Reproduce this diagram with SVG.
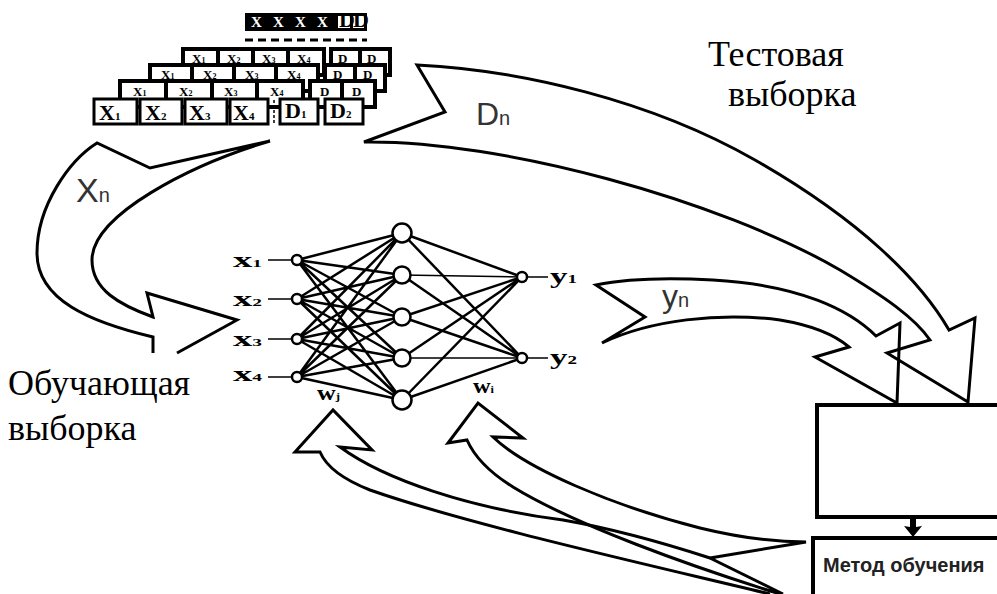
<svg xmlns="http://www.w3.org/2000/svg" width="997" height="594" viewBox="0 0 997 594">
<style>
.big{fill:none;stroke:#000;stroke-width:3;stroke-linejoin:miter}
.cell{fill:#fff;stroke:#000;stroke-width:3}
.cellb{fill:#fff;stroke:#000;stroke-width:4}
.cx{font-family:"Liberation Serif",serif;font-weight:bold;font-size:22px;fill:#000}
.cs{font-family:"Liberation Serif",serif;font-weight:bold;font-size:13px;fill:#000}
.cw{font-family:"Liberation Serif",serif;font-weight:bold;font-size:15px;fill:#fff}
.lbl{font-family:"Liberation Serif",serif;font-size:36px;fill:#000}
.al{font-family:"Liberation Sans",Arial,sans-serif;fill:#333}
.w{fill:none;stroke:#000;stroke-width:2.5}
.wt{fill:none;stroke:#000;stroke-width:1.5}
.nd{fill:#fff;stroke:#000;stroke-width:2.5}
.nl{font-family:"Liberation Serif",serif;font-weight:bold;font-size:22px;fill:#000}
.box{fill:#fff;stroke:#000;stroke-width:4}
</style>

<g id="dataset">
  <rect x="245" y="13" width="122" height="18" fill="#000"/>
  <text class="cw" x="251" y="27">X</text>
  <text class="cw" x="273" y="27">X</text>
  <text class="cw" x="295" y="27">X</text>
  <text class="cw" x="317" y="27">X</text>
  <rect x="338" y="16" width="12" height="12" fill="#fff"/>
  <rect x="353" y="16" width="11" height="12" fill="#fff"/>
  <text class="cx" x="339" y="27" font-size="13">D</text>
  <text class="cx" x="353" y="27" font-size="13">D</text>
  <line x1="245" y1="40" x2="367" y2="40" stroke="#000" stroke-width="3" stroke-dasharray="8 5"/>

  <g id="row1">
    <rect class="cellb" x="183" y="49" width="35" height="26"/>
    <rect class="cellb" x="218" y="49" width="35" height="26"/>
    <rect class="cellb" x="253" y="49" width="35" height="26"/>
    <rect class="cellb" x="288" y="49" width="36" height="26"/>
    <rect class="cellb" x="331" y="49" width="29" height="26"/>
    <rect class="cellb" x="360" y="49" width="30" height="26"/>
    <text class="cs" x="192" y="63">X<tspan font-size="8">1</tspan></text><text class="cs" x="227" y="63">X<tspan font-size="8">2</tspan></text>
    <text class="cs" x="262" y="63">X<tspan font-size="8">3</tspan></text><text class="cs" x="297" y="63">X<tspan font-size="8">4</tspan></text>
    <text class="cs" x="338" y="63">D</text><text class="cs" x="367" y="63">D</text>
  </g>
  <g id="row2">
    <rect class="cellb" x="150" y="65" width="42" height="26"/>
    <rect class="cellb" x="192" y="65" width="42" height="26"/>
    <rect class="cellb" x="234" y="65" width="42" height="26"/>
    <rect class="cellb" x="276" y="65" width="42" height="26"/>
    <rect class="cellb" x="325" y="65" width="30" height="26"/>
    <rect class="cellb" x="355" y="65" width="30" height="26"/>
    <text class="cs" x="161" y="79">X<tspan font-size="8">1</tspan></text><text class="cs" x="203" y="79">X<tspan font-size="8">2</tspan></text>
    <text class="cs" x="245" y="79">X<tspan font-size="8">3</tspan></text><text class="cs" x="287" y="79">X<tspan font-size="8">4</tspan></text>
    <text class="cs" x="333" y="79">D</text><text class="cs" x="363" y="79">D</text>
  </g>
  <g id="row3">
    <rect class="cellb" x="120" y="81" width="46" height="26"/>
    <rect class="cellb" x="166" y="81" width="46" height="26"/>
    <rect class="cellb" x="212" y="81" width="45" height="26"/>
    <rect class="cellb" x="257" y="81" width="46" height="26"/>
    <rect class="cellb" x="310" y="81" width="32" height="26"/>
    <rect class="cellb" x="342" y="81" width="33" height="26"/>
    <text class="cs" x="133" y="96">X<tspan font-size="8">1</tspan></text><text class="cs" x="179" y="96">X<tspan font-size="8">2</tspan></text>
    <text class="cs" x="224" y="96">X<tspan font-size="8">3</tspan></text><text class="cs" x="270" y="96">X<tspan font-size="8">4</tspan></text>
    <text class="cs" x="320" y="96">D</text><text class="cs" x="352" y="96">D</text>
  </g>
  <g id="row-front">
    <rect class="cell" x="94" y="99" width="43" height="25"/>
    <rect class="cell" x="140" y="99" width="42" height="25"/>
    <rect class="cell" x="185" y="99" width="42" height="25"/>
    <rect class="cell" x="230" y="99" width="38" height="25"/>
    <rect class="cell" x="280" y="99" width="38" height="25"/>
    <rect class="cell" x="325" y="99" width="38" height="25"/>
    <line x1="274" y1="100" x2="274" y2="124" stroke="#000" stroke-width="1.5" stroke-dasharray="3 2"/>
    <text class="cx" x="99" y="120">X<tspan font-size="11">1</tspan></text>
    <text class="cx" x="145" y="120">X<tspan font-size="11">2</tspan></text>
    <text class="cx" x="189" y="120">X<tspan font-size="11">3</tspan></text>
    <text class="cx" x="233" y="120">X<tspan font-size="11">4</tspan></text>
    <text class="cx" x="285" y="118" font-size="18">D<tspan font-size="11">1</tspan></text>
    <text class="cx" x="330" y="118" font-size="18">D<tspan font-size="11">2</tspan></text>
  </g>
</g>

<g id="connectors">
  <path id="arrow-xn" class="big" d="M153,353 L153,337 C 90,322 37,300 37,253 C 37,205 70,160 97,143 L150,168 L270,141 C 190,165 92,215 92,260 C 92,290 120,305 153,317 L147,293 L237,320 L177,353"/>
  <path id="arrow-dn" class="big" d="M417,65 L445,112 L364,142 C 500,140 720,200 840,270 C 885,297 915,318 930,340 L887,353 L968,402 L975,318 L949,330 C 920,280 860,220 755,160 C 650,100 520,70 417,65 Z"/>
  <path id="arrow-yn" class="big" d="M596,285 L645,317 L602,343 C 650,320 720,312 780,320 C 810,325 835,335 849,347 L815,357 L897,403 L900,323 L876,336 C 850,310 800,285 713,280 C 660,277 620,280 596,285 Z"/>
  <path id="arrow-w2" class="big" d="M780,594 C 690,566 575,525 513,487 C 492,474 475,458 467,440 L448,443 L478,403 L523,438 L493,437 C 525,468 610,505 700,528 C 745,539 780,542 806,542 L710,558 L783,594"/>
  <path id="arrow-w1" class="big" d="M770,594 C 650,565 470,525 370,490 C 342,479 326,466 320,452 L295,452 L333,410 L372,450 L340,447 C 385,480 470,508 563,520 C 620,530 670,545 710,558"/>
  <path id="arrow-down" d="M910,518 L916,518 L916,527 L922,526 L913,537 L904,526 L910,527 Z" fill="#000"/>
</g>

<g id="network">
  <path class="w" d="M297 260L402 233M297 260L402 275M297 260L402 317M297 260L402 358M297 260L402 400
  M297 299L402 233M297 299L402 275M297 299L402 317M297 299L402 358M297 299L402 400
  M297 339L402 233M297 339L402 275M297 339L402 317M297 339L402 358M297 339L402 400
  M297 377L402 233M297 377L402 275M297 377L402 317M297 377L402 358M297 377L402 400
  M402 233L522 277M402 233L522 358M402 275L522 358M402 317L522 277M402 317L522 358M402 358L522 277M402 400L522 277M402 400L522 358"/>
  <path class="wt" d="M402 275L522 277M402 358L522 358M268 260L292 260M268 299L292 299M268 339L292 339M268 377L292 377M527 277L548 277M527 358L548 358"/>
  <g id="in1"><circle class="nd" cx="297" cy="260" r="5"/><text class="nl" x="233" y="267" textLength="29" lengthAdjust="spacingAndGlyphs">x<tspan font-size="11">1</tspan></text></g>
  <g id="in2"><circle class="nd" cx="297" cy="299" r="5"/><text class="nl" x="233" y="306" textLength="29" lengthAdjust="spacingAndGlyphs">x<tspan font-size="11">2</tspan></text></g>
  <g id="in3"><circle class="nd" cx="297" cy="339" r="5"/><text class="nl" x="233" y="346" textLength="29" lengthAdjust="spacingAndGlyphs">x<tspan font-size="11">3</tspan></text></g>
  <g id="in4"><circle class="nd" cx="297" cy="377" r="5"/><text class="nl" x="233" y="381" textLength="29" lengthAdjust="spacingAndGlyphs">x<tspan font-size="11">4</tspan></text></g>
  <g id="h1"><circle class="nd" cx="402" cy="233" r="9.5"/></g>
  <g id="h2"><circle class="nd" cx="402" cy="275" r="8.5"/></g>
  <g id="h3"><circle class="nd" cx="402" cy="317" r="8.5"/></g>
  <g id="h4"><circle class="nd" cx="402" cy="358" r="8.5"/></g>
  <g id="h5"><circle class="nd" cx="402" cy="400" r="9.5"/></g>
  <g id="out1"><circle class="nd" cx="522" cy="277" r="5"/><text class="nl" x="550" y="283" textLength="27" lengthAdjust="spacingAndGlyphs">y<tspan font-size="12">1</tspan></text></g>
  <g id="out2"><circle class="nd" cx="522" cy="358" r="5"/><text class="nl" x="550" y="364" textLength="27" lengthAdjust="spacingAndGlyphs">y<tspan font-size="12">2</tspan></text></g>
  <text class="nl" x="317" y="400" textLength="23" lengthAdjust="spacingAndGlyphs">w<tspan font-size="11">j</tspan></text>
  <text class="nl" x="473" y="393" textLength="21" lengthAdjust="spacingAndGlyphs">w<tspan font-size="11">i</tspan></text>
</g>

<g id="labels">
  <text class="al" x="76" y="202" font-size="34">X<tspan font-size="20">n</tspan></text>
  <text class="al" x="476" y="125" font-size="32">D<tspan font-size="20">n</tspan></text>
  <text class="al" x="662" y="307" font-size="32">y<tspan font-size="20">n</tspan></text>
  <text class="lbl" x="708" y="66">Тестовая</text>
  <text class="lbl" x="728" y="106">выборка</text>
  <text class="lbl" x="8" y="395">Обучающая</text>
  <text class="lbl" x="8" y="440">выборка</text>
</g>

<g id="model-box">
  <rect class="box" x="817" y="405" width="200" height="112"/>
</g>
<g id="method-box">
  <rect class="box" x="813" y="538" width="200" height="70"/>
  <text x="823" y="572" font-family="Liberation Sans, Arial, sans-serif" font-weight="bold" font-size="20" fill="#222">Метод обучения</text>
</g>
</svg>
